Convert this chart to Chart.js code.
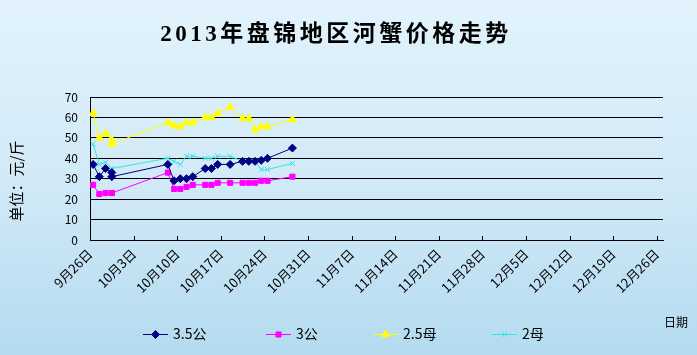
<!DOCTYPE html>
<html><head><meta charset="utf-8">
<script src="https://cdn.jsdelivr.net/npm/chart.js@4/dist/chart.umd.min.js"></script>
<style>html,body{margin:0;padding:0;background:#dff1fb;}#wrap{width:697px;height:355px;position:relative}</style>
</head><body><div id="wrap"><canvas id="c" width="697" height="355"></canvas></div>
<script>
const chartTitle = '2013年盘锦地区河蟹价格走势';
const yAxisTitle = '单位：元/斤';
const xAxisTitle = '日期';
const seriesNames = ['3.5公', '3公', '2.5母', '2母'];
const startDate = '9/26';
const endDate = '12/27';
const dates = ['9/26','9/27','9/28','9/29','9/29','10/8','10/9','10/10','10/11','10/12','10/14','10/15','10/16','10/18','10/20','10/21','10/22','10/23','10/24','10/28'];
const gong35 = [37, 31, 35, 33, 31, 37, 29, 30, 30, 31, 35, 35, 37, 37, 38.5, 38.5, 38.5, 39, 40, 45];
const gong3  = [27, 22.5, 23, 23, 23, 33, 25, 25, 26, 27, 27, 27, 28, 28, 28, 28, 28, 29, 29, 31];
const mu25   = [62, 50, 52, 49, 47, 57.5, 56, 55.5, 57.5, 57.5, 60, 60, 62, 65, 59.5, 59.5, 54, 55.5, 55.5, 59];
const mu2    = [47, 37, 38, 35, 35, 40, 38.5, 37, 41, 41, 40, 40, 41, 41, 38.5, 38.5, 38.5, 34.5, 34.5, 37.5];
const tickLabels = ['9月26日','10月3日','10月10日','10月17日','10月24日','10月31日','11月7日','11月14日','11月21日','11月28日','12月5日','12月12日','12月19日','12月26日'];
const yTicks = [0, 10, 20, 30, 40, 50, 60, 70];

function dayOf(s) {
  const p = s.replace('日','').split(/[\/月]/).map(Number);
  return Math.round((Date.UTC(2013, p[0]-1, p[1]) - Date.UTC(2013, 8, 26)) / 86400000);
}
function pts(vals) { return dates.map((d, i) => ({ x: dayOf(d) + 0.5, y: vals[i] })); }

const styles = [
  { c: '#000080', ps: 'rectRot', r: 4 },
  { c: '#ff00ff', ps: 'rect', r: 3.6 },
  { c: '#ffff00', ps: 'triangle', r: 4.5 },
  { c: '#33e6e6', ps: 'crossRot', r: 3.5 }
];
const seriesVals = [gong35, gong3, mu25, mu2];
const datasets = seriesVals.map((v, i) => ({
  label: seriesNames[i], data: pts(v),
  borderColor: styles[i].c, backgroundColor: styles[i].c,
  pointStyle: styles[i].ps, pointRadius: styles[i].r, pointBorderWidth: 1,
  borderWidth: 1, tension: 0
}));

const CJK = '"Noto Sans CJK SC", "Noto Sans", sans-serif';

const deco = {
  id: 'deco',
  beforeDraw(chart) {
    const ctx = chart.ctx;
    const g = ctx.createLinearGradient(0, 0, 0, 355);
    g.addColorStop(0, '#e2f3fc');
    g.addColorStop(0.5, '#d2eaf7');
    g.addColorStop(1, '#b4dbf0');
    ctx.save(); ctx.fillStyle = g; ctx.fillRect(0, 0, 697, 355); ctx.restore();
  },
  afterDraw(chart) {
    const ctx = chart.ctx;
    const xs = chart.scales.x, ys = chart.scales.y;
    ctx.save();
    ctx.strokeStyle = '#000'; ctx.lineWidth = 1;
    tickLabels.forEach(t => {
      const px = Math.round(xs.getPixelForValue(dayOf(t))) + 0.5;
      ctx.beginPath(); ctx.moveTo(px, ys.bottom); ctx.lineTo(px, ys.bottom - 4); ctx.stroke();
    });
    ctx.fillStyle = '#000';
    ctx.font = 'bold 23px "Liberation Serif", ' + CJK;
    ctx.letterSpacing = '3.5px';
    ctx.textAlign = 'center'; ctx.textBaseline = 'middle';
    ctx.fillText(chartTitle, 336, 35);
    ctx.letterSpacing = '0px';
    ctx.save();
    ctx.translate(16, 181); ctx.rotate(-Math.PI / 2);
    ctx.font = '15px ' + CJK;
    ctx.fillText(yAxisTitle, 0, 0);
    ctx.restore();
    ctx.font = '12px ' + CJK; ctx.textAlign = 'left';
    ctx.fillText(xAxisTitle, 664, 322);
    const lx = [143, 266, 373, 492];
    const ly = 334;
    datasets.forEach((ds, i) => {
      ctx.strokeStyle = ds.borderColor; ctx.lineWidth = 1;
      ctx.beginPath(); ctx.moveTo(lx[i], ly + 0.5); ctx.lineTo(lx[i] + 25, ly + 0.5); ctx.stroke();
      ctx.fillStyle = ds.backgroundColor;
      Chart.helpers.drawPoint(ctx, { pointStyle: ds.pointStyle, radius: ds.pointRadius, rotation: 0, borderWidth: 1 }, lx[i] + 12.5, ly + 0.5);
      ctx.fillStyle = '#000';
      ctx.font = '14px ' + CJK; ctx.textAlign = 'left'; ctx.textBaseline = 'middle';
      ctx.fillText(ds.label, lx[i] + 30, ly);
    });
    ctx.restore();
  }
};

new Chart(document.getElementById('c'), {
  type: 'line',
  data: { datasets },
  options: {
    responsive: false, animation: false, devicePixelRatio: 1,
    layout: { padding: { left: 0, top: 97, right: 34, bottom: 0 } },
    plugins: { legend: { display: false }, title: { display: false }, tooltip: { enabled: false } },
    scales: {
      x: {
        type: 'linear', min: dayOf(startDate), max: dayOf(endDate),
        afterBuildTicks: s => { s.ticks = tickLabels.map(t => ({ value: dayOf(t) })); },
        afterFit: s => { s.height = 115; },
        grid: { display: false, drawTicks: false },
        border: { display: true, color: '#000', width: 1 },
        ticks: {
          minRotation: 45, maxRotation: 45, autoSkip: false, padding: 6,
          color: '#000', font: { size: 13, family: CJK },
          callback: (v) => { const i = tickLabels.findIndex(t => dayOf(t) === v); return i >= 0 ? tickLabels[i] : ''; }
        }
      },
      y: {
        min: yTicks[0], max: yTicks[yTicks.length - 1],
        afterBuildTicks: s => { s.ticks = yTicks.map(v => ({ value: v })); },
        afterFit: s => { s.width = 90; },
        grid: { color: '#000', lineWidth: 1, drawTicks: false },
        border: { display: true, color: '#000', width: 1 },
        ticks: { padding: 12, color: '#000', font: { size: 12, family: CJK } }
      }
    }
  },
  plugins: [deco]
});
</script></body></html>
